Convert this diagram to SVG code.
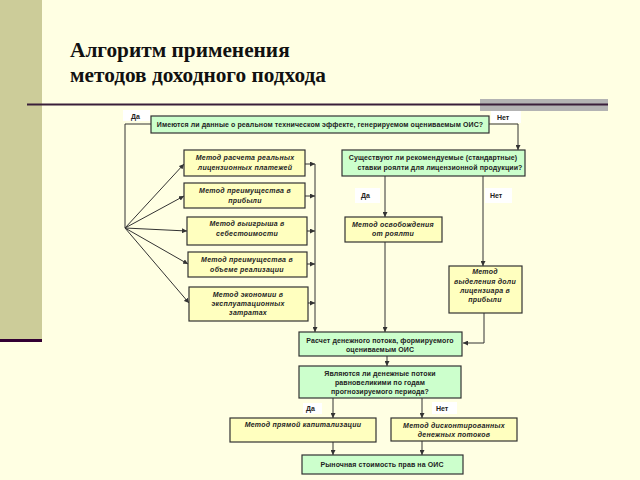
<svg xmlns="http://www.w3.org/2000/svg" width="640" height="480" viewBox="0 0 640 480">
<defs>
<marker id="ah" viewBox="0 0 6 6" refX="6" refY="3" markerWidth="5" markerHeight="5" orient="auto" markerUnits="userSpaceOnUse">
<path d="M0,0 L6,3 L0,6 z" fill="#333"/>
</marker>
<style>
.g{fill:#ccffcc;stroke:#333;stroke-width:1.2}
.y{fill:#ffffbf;stroke:#333;stroke-width:1.2}
.tg{font-family:"Liberation Sans",Arial,sans-serif;font-size:7px;font-weight:bold;fill:#222;text-anchor:middle;letter-spacing:0.1px}
.ty{font-family:"Liberation Sans",Arial,sans-serif;font-size:7px;font-weight:bold;font-style:italic;fill:#222;text-anchor:middle;letter-spacing:0.25px}
.lb{fill:#ffffff}
.lt{font-family:"Liberation Sans",Arial,sans-serif;font-size:7px;font-weight:bold;fill:#222}
.c{fill:none;stroke:#333;stroke-width:1}
.ca{fill:none;stroke:#333;stroke-width:1;marker-end:url(#ah)}
.title{font-family:"Liberation Serif","Times New Roman",serif;font-size:21.3px;font-weight:bold;fill:#111}
</style>
</defs>
<rect width="640" height="480" fill="#ffffe3"/>
<rect x="0" y="0" width="42" height="340" fill="#cccc99"/>
<rect x="0" y="339" width="42" height="3" fill="#330033"/>
<rect x="480" y="99" width="128" height="12" fill="#b3b3b3"/>
<rect x="27" y="103.5" width="581" height="2" fill="#3a1f3a"/>
<g id="title">
<text class="title" x="70" y="57">Алгоритм применения</text>
<text class="title" x="70" y="82">методов доходного подхода</text>
</g>
<g id="labels">
<rect class="lb" x="123" y="110" width="27" height="11"/>
<text class="lt" x="131" y="119">Да</text>
<rect class="lb" x="491" y="111" width="30" height="12"/>
<text class="lt" x="497" y="120">Нет</text>
<rect class="lb" x="355" y="188" width="25" height="15"/>
<text class="lt" x="361" y="198">Да</text>
<rect class="lb" x="485" y="188" width="27" height="15"/>
<text class="lt" x="490" y="198">Нет</text>
<rect class="lb" x="303" y="403" width="19" height="11"/>
<text class="lt" x="306" y="411">Да</text>
<rect class="lb" x="432" y="402" width="25" height="12"/>
<text class="lt" x="436" y="411">Нет</text>
</g>
<g id="connectors">
<polyline class="c" points="151,124 125,124 125,228"/>
<polyline class="ca" points="489,124 518,124 518,150"/>
<line class="ca" x1="125" y1="228" x2="184" y2="164"/>
<line class="ca" x1="125" y1="228" x2="184" y2="196"/>
<line class="ca" x1="125" y1="228" x2="187" y2="231"/>
<line class="ca" x1="125" y1="228" x2="188" y2="264"/>
<line class="ca" x1="125" y1="228" x2="189" y2="303"/>
<line class="ca" x1="305" y1="164" x2="315" y2="164"/>
<line class="ca" x1="305" y1="196" x2="315" y2="196"/>
<line class="ca" x1="307" y1="231" x2="315" y2="231"/>
<line class="ca" x1="307" y1="264" x2="315" y2="264"/>
<line class="ca" x1="308" y1="303" x2="315" y2="303"/>
<line class="ca" x1="315" y1="164" x2="315" y2="332"/>
<line class="ca" x1="385" y1="176" x2="385" y2="217"/>
<line class="ca" x1="483" y1="176" x2="483" y2="266"/>
<line class="ca" x1="385" y1="242" x2="385" y2="332"/>
<polyline class="ca" points="484,313 484,343 463,343"/>
<line class="ca" x1="387" y1="356" x2="387" y2="366"/>
<line class="ca" x1="333" y1="398" x2="333" y2="418"/>
<line class="ca" x1="422" y1="398" x2="422" y2="418"/>
<line class="ca" x1="333" y1="442" x2="333" y2="455"/>
<line class="ca" x1="422" y1="441" x2="422" y2="455"/>
</g>
<g id="q1">
<rect class="g" x="151" y="116" width="338" height="17"/>
<text class="tg" x="320" y="127">Имеются ли данные о реальном техническом эффекте, генерируемом оцениваемым ОИС?</text>
</g>
<g id="q2">
<rect class="g" x="342" y="150" width="183" height="26"/>
<text class="tg" x="433" y="160">Существуют ли рекомендуемые (стандартные)</text>
<text class="tg" x="440" y="170">ставки роялти для лицензионной продукции?</text>
</g>
<g id="m1">
<rect class="y" x="184" y="150" width="121" height="26"/>
<text class="ty" x="245" y="160">Метод расчета реальных</text>
<text class="ty" x="245" y="170">лицензионных платежей</text>
</g>
<g id="m2">
<rect class="y" x="184" y="183" width="121" height="25"/>
<text class="ty" x="245" y="193">Метод преимущества в</text>
<text class="ty" x="245" y="203">прибыли</text>
</g>
<g id="m3">
<rect class="y" x="187" y="217" width="120" height="28"/>
<text class="ty" x="247" y="226">Метод выигрыша в</text>
<text class="ty" x="247" y="236">себестоимости</text>
</g>
<g id="m4">
<rect class="y" x="188" y="252" width="119" height="25"/>
<text class="ty" x="247" y="262">Метод преимущества в</text>
<text class="ty" x="247" y="272">объеме реализации</text>
</g>
<g id="m5">
<rect class="y" x="189" y="287" width="119" height="34"/>
<text class="ty" x="248" y="297">Метод экономии в</text>
<text class="ty" x="248" y="306">эксплуатационных</text>
<text class="ty" x="248" y="315">затратах</text>
</g>
<g id="m6">
<rect class="y" x="345" y="217" width="97" height="25"/>
<text class="ty" x="393" y="227">Метод освобождения</text>
<text class="ty" x="393" y="236">от роялти</text>
</g>
<g id="m7">
<rect class="y" x="449" y="266" width="73" height="47"/>
<text class="ty" x="485" y="274">Метод</text>
<text class="ty" x="485" y="284">выделения доли</text>
<text class="ty" x="485" y="293">лицензиара в</text>
<text class="ty" x="485" y="302">прибыли</text>
</g>
<g id="cf">
<rect class="g" x="299" y="332" width="163" height="24"/>
<text class="tg" x="380" y="343">Расчет денежного потока, формируемого</text>
<text class="tg" x="380" y="352">оцениваемым ОИС</text>
</g>
<g id="q3">
<rect class="g" x="299" y="366" width="162" height="32"/>
<text class="tg" x="380" y="376">Являются ли денежные потоки</text>
<text class="tg" x="380" y="385">равновеликими по годам</text>
<text class="tg" x="380" y="394">прогнозируемого периода?</text>
</g>
<g id="m8">
<rect class="y" x="230" y="418" width="146" height="24"/>
<text class="ty" x="303" y="427">Метод прямой капитализации</text>
</g>
<g id="m9">
<rect class="y" x="391" y="418" width="126" height="23"/>
<text class="ty" x="454" y="428">Метод дисконтированных</text>
<text class="ty" x="454" y="437">денежных потоков</text>
</g>
<g id="res">
<rect class="g" x="302" y="455" width="161" height="19"/>
<text class="tg" x="382" y="467">Рыночная стоимость прав на ОИС</text>
</g>
</svg>
